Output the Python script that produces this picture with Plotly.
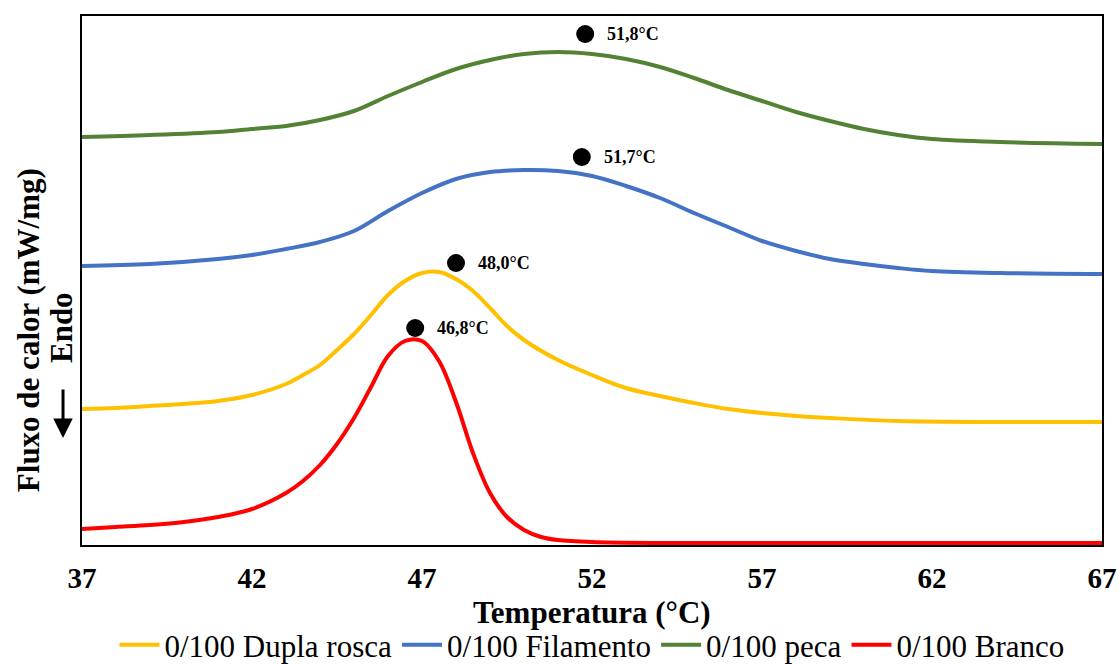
import plotly.graph_objects as go

# DSC heating curves (heat flow, arbitrary offset units) vs temperature (°C)
t_dupla = [37, 38, 39, 40, 41, 42, 43, 43.5, 44, 44.5, 45, 45.5, 46, 46.5, 47, 47.5, 48, 48.5, 49, 49.5,
           50, 51, 52, 53, 54, 55, 56, 57, 58, 59, 61, 64, 67]
q_dupla = [1.36, 1.37, 1.39, 1.41, 1.44, 1.50, 1.61, 1.70, 1.80, 1.95, 2.11, 2.30, 2.50, 2.64, 2.72, 2.73,
           2.66, 2.54, 2.37, 2.19, 2.05, 1.85, 1.70, 1.57, 1.49, 1.42, 1.36, 1.32, 1.29, 1.27, 1.24, 1.23, 1.23]

t_filamento = [37, 39, 41, 42, 43, 44, 45, 46, 47, 48, 49, 50, 51, 52, 53, 54, 55, 56, 57, 58, 59, 60,
               61, 62, 64, 67]
q_filamento = [2.79, 2.81, 2.86, 2.90, 2.96, 3.03, 3.14, 3.34, 3.52, 3.66, 3.73, 3.75, 3.74, 3.69, 3.59,
               3.47, 3.32, 3.18, 3.04, 2.94, 2.86, 2.81, 2.77, 2.74, 2.72, 2.71]

t_peca = [37, 39, 41, 42, 43, 44, 45, 46, 47, 48, 49, 50, 51, 52, 53, 54, 55, 56, 57, 58, 59, 60, 61,
          62, 64, 67]
q_peca = [4.08, 4.10, 4.13, 4.16, 4.19, 4.25, 4.34, 4.49, 4.63, 4.76, 4.85, 4.91, 4.93, 4.91, 4.86, 4.78,
          4.67, 4.55, 4.44, 4.33, 4.24, 4.16, 4.10, 4.06, 4.03, 4.01]

t_branco = [37, 38, 39, 40, 41, 42, 43, 43.5, 44, 44.5, 45, 45.5, 46, 46.5, 47, 47.5, 48, 48.5, 49, 49.5,
            50, 50.5, 51, 52, 54, 67]
q_branco = [0.16, 0.18, 0.20, 0.23, 0.28, 0.36, 0.52, 0.64, 0.80, 1.01, 1.27, 1.58, 1.89, 2.04, 2.04, 1.84,
            1.43, 0.92, 0.52, 0.28, 0.15, 0.08, 0.05, 0.03, 0.02, 0.02]

# Peak temperatures (°C) and marker heights
peak_temp = [51.8, 51.7, 48.0, 46.8]
peak_mark = [5.11, 3.88, 2.82, 2.17]

series = [
    ("0/100 Dupla rosca", t_dupla, q_dupla, "#FFC000"),
    ("0/100 Filamento", t_filamento, q_filamento, "#4472C4"),
    ("0/100 peca", t_peca, q_peca, "#548235"),
    ("0/100 Branco", t_branco, q_branco, "#FF0000"),
]

SERIF = "Liberation Serif"

fig = go.Figure()
for name, t, q, color in series:
    fig.add_trace(go.Scatter(
        x=t, y=q, name=name, mode="lines",
        line=dict(color=color, width=4, shape="spline", smoothing=1.0),
    ))

fig.add_trace(go.Scatter(
    x=peak_temp, y=peak_mark, mode="markers", showlegend=False,
    marker=dict(color="black", size=18),
))
for t, q in zip(peak_temp, peak_mark):
    fig.add_annotation(
        x=t, y=q, text=f"{t:.1f}".replace(".", ",") + "°C",
        xanchor="left", yanchor="middle", xshift=20, showarrow=False,
        font=dict(family=SERIF, size=18, color="black", weight="bold"),
    )

fig.update_xaxes(
    range=[37, 67], tickvals=[37, 42, 47, 52, 57, 62, 67],
    showline=True, mirror=True, linecolor="black", linewidth=2,
    ticks="outside", ticklen=6, tickcolor="rgba(0,0,0,0)",
    showgrid=False, zeroline=False,
    tickfont=dict(family=SERIF, size=29, color="black", weight="bold"),
)
fig.update_yaxes(
    range=[0, 5.29], showline=True, mirror=True, linecolor="black", linewidth=2,
    showticklabels=False, ticks="", showgrid=False, zeroline=False,
)

fig.add_annotation(
    text="Temperatura (°C)", xref="paper", yref="paper", x=0.5, y=-0.127,
    xanchor="center", yanchor="middle", showarrow=False,
    font=dict(family=SERIF, size=31, color="black", weight="bold"),
)
fig.add_annotation(
    text="Fluxo de calor (mW/mg)", xref="paper", yref="paper", x=-0.053, y=0.406,
    xanchor="center", yanchor="middle", showarrow=False, textangle=-90,
    font=dict(family=SERIF, size=31, color="black", weight="bold"),
)
fig.add_annotation(
    text="Endo", xref="paper", yref="paper", x=-0.0206, y=0.412,
    xanchor="center", yanchor="middle", showarrow=False, textangle=-90,
    font=dict(family=SERIF, size=31, color="black", weight="bold"),
)
fig.add_annotation(
    text="", xref="paper", yref="paper", x=-0.0186, y=0.2023,
    ax=0, ay=-50, showarrow=True, arrowhead=2, arrowsize=1.3,
    arrowwidth=3, arrowcolor="black",
)

fig.update_layout(
    width=1119, height=664,
    margin=dict(l=82, r=17, t=16, b=119, autoexpand=False),
    paper_bgcolor="white", plot_bgcolor="white",
    showlegend=True,
    legend=dict(
        orientation="h", x=0.5, xanchor="center", y=-0.138, yanchor="top",
        font=dict(family=SERIF, size=31, color="black"),
        itemwidth=40, tracegroupgap=0,
    ),
)

fig.write_html("out.html")
